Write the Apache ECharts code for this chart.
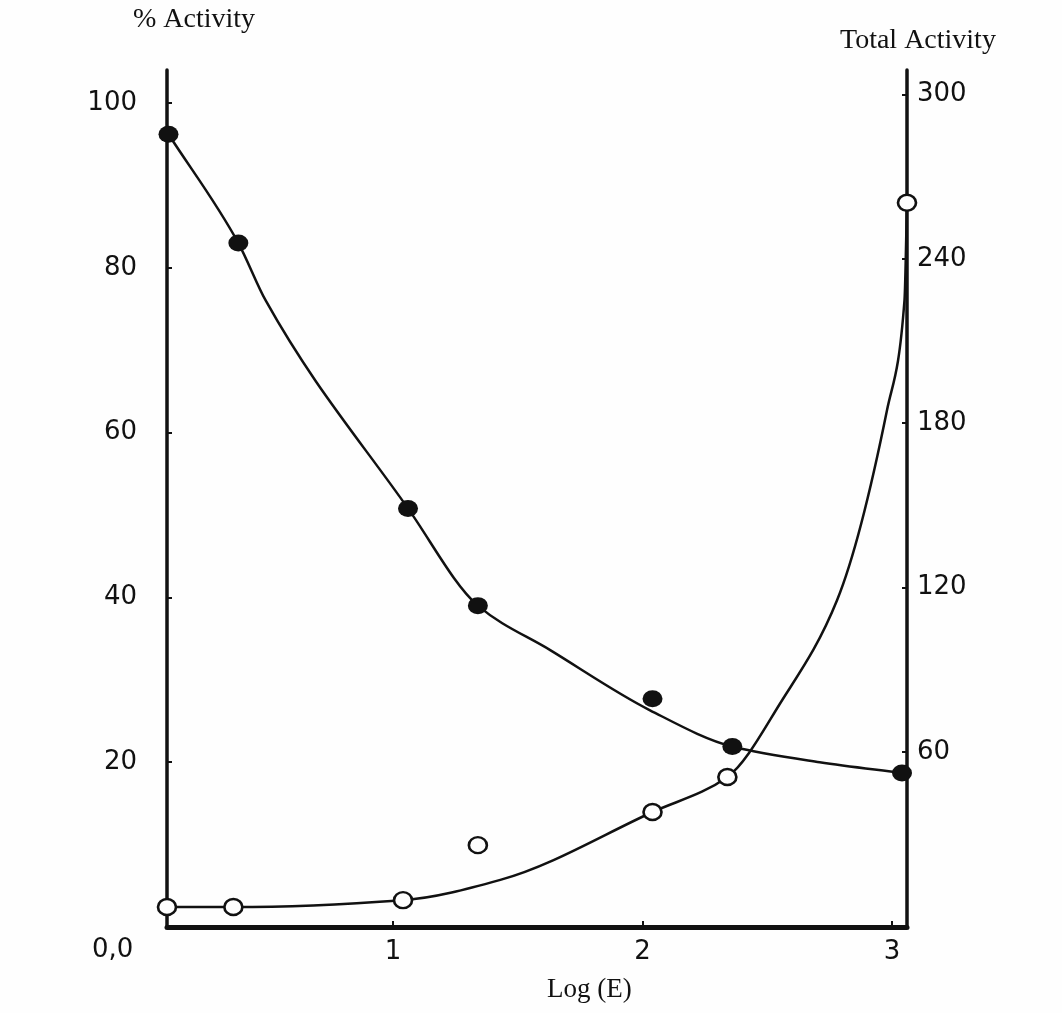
<!DOCTYPE html>
<html>
<head>
<meta charset="utf-8">
<style>
  html, body { margin: 0; padding: 0; background: #fefefe; }
  #chart { width: 1062px; height: 1013px; }
</style>
<script src="https://cdn.jsdelivr.net/npm/echarts@6/dist/echarts.min.js"></script>
</head>
<body>
<div id="chart"></div>
<script>
// Log(E) positions and % activity (filled circles, left axis)
const pctX = [0.10, 0.38, 1.06, 1.34, 2.04, 2.36, 3.04];
const pctY = [96.2, 83.0, 50.8, 39.0, 27.7, 21.9, 18.7];

// Log(E) positions and total activity (open circles, right axis)
const totX = [0.094, 0.36, 1.04, 1.34, 2.04, 2.34, 3.06];
const totY = [3.3, 3.3, 5.8, 25.9, 38.0, 50.8, 260.5];

// hand-fitted curve through the % activity points
const pctCurveX = [0.10, 0.38, 0.49, 1.06, 1.34, 1.63, 2.03, 2.36, 2.71, 3.04];
const pctCurveY = [96.2, 83.0, 76.0, 50.8, 39.0, 33.6, 26.3, 21.9, 20.0, 18.7];

// hand-fitted curve through the total activity points
const totCurveX = [0.094, 0.36, 1.04, 1.43, 2.04, 2.34, 2.56, 2.78, 2.98, 3.05, 3.06];
const totCurveY = [3.3, 3.3, 5.8, 13.2, 38.0, 50.8, 78.9, 115.4, 184.8, 225.0, 260.5];

// tick labels
const xTicks = [1, 2, 3];
const leftTicks = [20, 40, 60, 80, 100];
const rightTicks = [60, 120, 180, 240, 300];

const zip = (xs, ys) => xs.map((x, i) => [x, ys[i]]);

const INK = '#111';
const numFont = 'DejaVu Sans';
const serifFont = 'Liberation Serif';

// Monotone cubic (Fritsch-Butland) path through pixel points, as SVG path data
function monotonePath(pts) {
  const n = pts.length;
  const h = [], d = [];
  for (let i = 0; i < n - 1; i++) {
    h[i] = pts[i + 1][0] - pts[i][0];
    d[i] = h[i] === 0 ? 0 : (pts[i + 1][1] - pts[i][1]) / h[i];
  }
  const m = new Array(n);
  m[0] = d[0];
  m[n - 1] = d[n - 2];
  for (let i = 1; i < n - 1; i++) {
    if (d[i - 1] * d[i] <= 0) { m[i] = 0; continue; }
    const a = h[i - 1], b = h[i];
    m[i] = 3 * (a + b) / ((2 * b + a) / d[i - 1] + (b + 2 * a) / d[i]);
  }
  let s = 'M' + pts[0][0] + ' ' + pts[0][1];
  for (let i = 0; i < n - 1; i++) {
    const t = h[i] / 3;
    s += ' C' + (pts[i][0] + t) + ' ' + (pts[i][1] + m[i] * t) + ' ' +
         (pts[i + 1][0] - t) + ' ' + (pts[i + 1][1] - m[i + 1] * t) + ' ' +
         pts[i + 1][0] + ' ' + pts[i + 1][1];
  }
  return s;
}

// custom series that draws one smooth curve through all of its data
function curveSeries(xs, ys, yAxisIndex) {
  const data = zip(xs, ys);
  return {
    type: 'custom',
    yAxisIndex: yAxisIndex,
    data: data,
    encode: { x: 0, y: 1 },
    clip: false,
    silent: true,
    z: 2,
    renderItem: function (params, api) {
      if (params.dataIndex !== 0) return null;
      const pts = data.map(p => api.coord(p));
      return {
        type: 'path',
        shape: { pathData: monotonePath(pts) },
        style: { fill: 'none', stroke: INK, lineWidth: 2.5 }
      };
    }
  };
}

const chart = echarts.init(document.getElementById('chart'), null, { renderer: 'canvas' });

chart.setOption({
  backgroundColor: '#fefefe',
  animation: false,
  grid: { left: 167, right: 155, top: 70, bottom: 86 },
  xAxis: {
    type: 'value',
    min: 0.094,
    max: 3.06,
    splitLine: { show: false },
    axisLine: { show: true, lineStyle: { color: INK, width: 5 } },
    axisTick: { show: true, inside: true, length: 6, customValues: xTicks,
                lineStyle: { color: INK, width: 2 } },
    axisLabel: { customValues: xTicks, color: INK, fontFamily: numFont,
                 fontSize: 26, margin: 12 }
  },
  yAxis: [
    {
      type: 'value',
      position: 'left',
      min: 0,
      max: 104,
      splitLine: { show: false },
      axisLine: { show: true, onZero: false, lineStyle: { color: INK, width: 3.5 } },
      axisTick: { show: true, inside: true, length: 5, customValues: leftTicks,
                  lineStyle: { color: INK, width: 2 } },
      axisLabel: { customValues: leftTicks, color: INK, fontFamily: numFont,
                   fontSize: 26, margin: 30 }
    },
    {
      type: 'value',
      position: 'right',
      min: -4,
      max: 309,
      splitLine: { show: false },
      axisLine: { show: true, onZero: false, lineStyle: { color: INK, width: 3.5 } },
      axisTick: { show: true, inside: true, length: 5, customValues: rightTicks,
                  lineStyle: { color: INK, width: 2 } },
      axisLabel: { customValues: rightTicks, color: INK, fontFamily: numFont,
                   fontSize: 26, margin: 10 }
    }
  ],
  graphic: [
    { type: 'text', left: 133, top: 6,
      style: { text: '% Activity', font: '28px "' + serifFont + '"', fill: INK } },
    { type: 'text', left: 840, top: 27,
      style: { text: 'Total Activity', font: '28px "' + serifFont + '"', fill: INK } },
    { type: 'text', left: 547, top: 976,
      style: { text: 'Log (E)', font: '27px "' + serifFont + '"', fill: INK } },
    { type: 'text', left: 92, top: 937,
      style: { text: '0,0', font: '26px "' + numFont + '"', fill: INK } }
  ],
  series: [
    curveSeries(pctCurveX, pctCurveY, 0),
    curveSeries(totCurveX, totCurveY, 1),
    {
      type: 'scatter',
      yAxisIndex: 0,
      data: zip(pctX, pctY),
      symbol: 'circle',
      symbolSize: [20, 17],
      clip: false,
      itemStyle: { color: INK, opacity: 1 },
      z: 4
    },
    {
      type: 'scatter',
      yAxisIndex: 1,
      data: zip(totX, totY),
      symbol: 'circle',
      symbolSize: [18, 16],
      clip: false,
      itemStyle: { color: '#fefefe', borderColor: INK, borderWidth: 2.5, opacity: 1 },
      z: 4
    }
  ]
});
</script>
</body>
</html>
